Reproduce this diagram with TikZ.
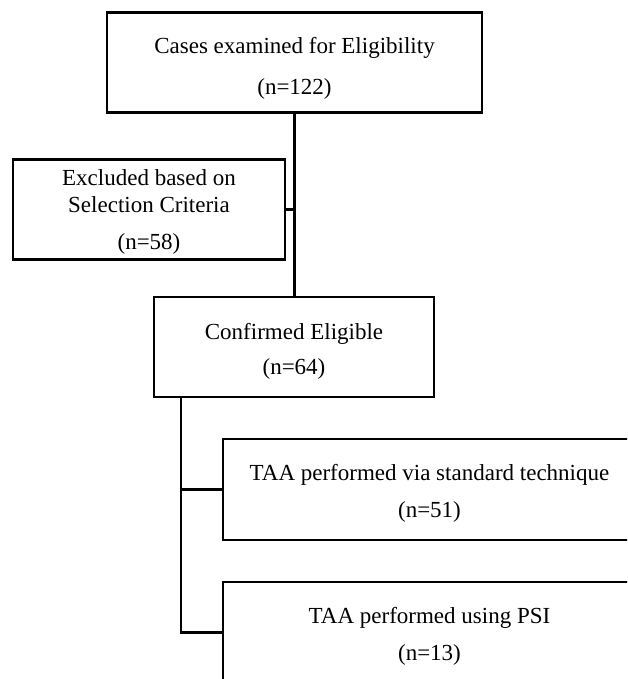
\documentclass[tikz,border=0pt]{standalone}
\usepackage{fontspec}
\setmainfont{Liberation Serif}
\usepackage{tikz}
\usetikzlibrary{positioning,calc}
\newcommand{\toplift}[1]{\rule{0pt}{#1}}

\tikzset{
    flowbox/.style={draw, line width=1.1pt, align=center, inner sep=0pt, font=\fontsize{11.5}{13.5}\selectfont},
    link/.style={line width=1.1pt},
}

\begin{document}
\begin{tikzpicture}[x=0.5pt, y=-0.5pt]
    %% page frame
    \useasboundingbox (0,0) rectangle (627,679);
    \clip (0,0) rectangle (627,679);
    %% boxes
    \node[flowbox, minimum width=187.5pt, minimum height=50pt] (top) at (294.5,62.5)
        {\toplift{14pt}Cases examined for Eligibility\\[7pt] (n=122)};
    \node[flowbox, minimum width=136pt, minimum height=50pt] (excl) at (149,209.5)
        {\toplift{10pt}Excluded based on\\ Selection Criteria\\[5pt] (n=58)};
    \node[flowbox, minimum width=140pt, minimum height=50pt] (conf) at (294,347)
        {\toplift{12pt}Confirmed Eligible\\[4pt] (n=64)};
    \node[flowbox, minimum width=206.5pt, minimum height=50.5pt] (std) at (429.5,489.5)
        {\toplift{12pt}TAA performed via standard technique\\[5pt] (n=51)};
    \node[flowbox, minimum width=206.5pt, minimum height=50.5pt] (psi) at (429.5,632.5)
        {\toplift{12pt}TAA performed using PSI\\[5pt] (n=13)};
    %% connectors
    \coordinate (split) at ($(conf.south west)+(28,0)$);
    \draw[link] (top.south) -- (top.south |- conf.north);
    \draw[link] (excl.east) -- (excl.east -| top.south);
    \draw[link] (split) |- (std.west);
    \draw[link] (split) |- (psi.west);
\end{tikzpicture}
\end{document}
